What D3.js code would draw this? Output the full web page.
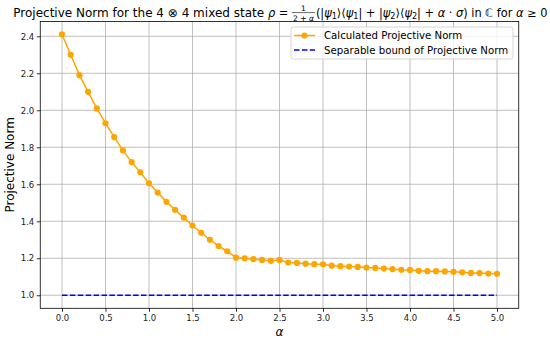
<!DOCTYPE html>
<html>
<head>
<meta charset="utf-8">
<script src="https://cdn.jsdelivr.net/npm/d3@7"></script>
<style>
  html, body { margin: 0; padding: 0; background: #fff; }
  svg { display: block; font-family: "DejaVu Sans", sans-serif; }
  text { white-space: pre; }
</style>
</head>
<body>
<svg id="chart" width="550" height="340"></svg>
<script>
// ---------- data ----------
const alphas = [0.0,0.1,0.2,0.3,0.4,0.5,0.6,0.7,0.8,0.9,1.0,1.1,1.2,1.3,1.4,1.5,1.6,1.7,1.8,1.9,2.0,
                2.1,2.2,2.3,2.4,2.5,2.6,2.7,2.8,2.9,3.0,3.1,3.2,3.3,3.4,3.5,3.6,3.7,3.8,3.9,4.0,
                4.1,4.2,4.3,4.4,4.5,4.6,4.7,4.8,4.9,5.0];
const normValues = [2.41,2.30,2.19,2.10,2.01,1.93,1.855,1.783,1.72,1.665,1.605,1.555,1.505,1.462,1.42,1.377,1.338,1.30,1.266,1.238,1.203,
                    1.200,1.195,1.191,1.186,1.191,1.177,1.175,1.171,1.168,1.167,1.160,1.157,1.155,1.153,1.150,1.148,1.144,1.141,1.138,1.137,
                    1.132,1.130,1.130,1.129,1.127,1.124,1.121,1.120,1.117,1.116];
const boundAlphas = [0.0, 5.0];
const boundValues = [1.0, 1.0];
const xTicks = [0.0,0.5,1.0,1.5,2.0,2.5,3.0,3.5,4.0,4.5,5.0];
const yTicks = [1.0,1.2,1.4,1.6,1.8,2.0,2.2,2.4];
const seriesNames = ["Calculated Projective Norm", "Separable bound of Projective Norm"];

// ---------- layout ----------
const svg = d3.select("#chart");
const L = 40.25, R = 518.75, T = 21.4, B = 308.3;
const x = d3.scaleLinear().domain([-0.25, 5.25]).range([L, R]);
const y = d3.scaleLinear().domain([0.9295, 2.4805]).range([B, T]);
const orange = "#FFA500", blue = "#0000FF";
const lw = 1.5, mr = 3.1;

// grid
const grid = svg.append("g");
grid.selectAll(".gx").data(xTicks).join("line")
  .attr("x1", d => x(d)).attr("x2", d => x(d)).attr("y1", T).attr("y2", B)
  .attr("stroke", "#b0b0b0").attr("stroke-width", 0.8);
grid.selectAll(".gy").data(yTicks).join("line")
  .attr("x1", L).attr("x2", R).attr("y1", d => y(d)).attr("y2", d => y(d))
  .attr("stroke", "#b0b0b0").attr("stroke-width", 0.8);

// axes
const xAxis = svg.append("g").attr("transform", `translate(0,${B})`)
  .call(d3.axisBottom(x).tickValues(xTicks).tickFormat(d3.format(".1f")).tickSize(3.5).tickPadding(3));
const yAxis = svg.append("g").attr("transform", `translate(${L},0)`)
  .call(d3.axisLeft(y).tickValues(yTicks).tickFormat(d3.format(".1f")).tickSize(3.5).tickPadding(2.5));
[xAxis, yAxis].forEach(a => {
  a.select(".domain").remove();
  a.selectAll(".tick line").attr("stroke", "#000").attr("stroke-width", 0.8);
  a.selectAll(".tick text").attr("fill", "#222").style("font-size", "8.5px")
    .style("font-family", "'DejaVu Sans', sans-serif");
});

// data lines
const line = d3.line().x(d => x(d[0])).y(d => y(d[1]));
svg.append("path").datum(d3.zip(boundAlphas, boundValues))
  .attr("d", line).attr("fill", "none").attr("stroke", blue)
  .attr("stroke-width", lw).attr("stroke-dasharray", "5.5,2.4");
const normPts = d3.zip(alphas, normValues);
svg.append("path").datum(normPts)
  .attr("d", line).attr("fill", "none").attr("stroke", orange).attr("stroke-width", lw);
svg.append("g").selectAll("circle").data(normPts).join("circle")
  .attr("cx", d => x(d[0])).attr("cy", d => y(d[1])).attr("r", mr).attr("fill", orange);

// spines
svg.append("rect").attr("x", L).attr("y", T).attr("width", R - L).attr("height", B - T)
  .attr("fill", "none").attr("stroke", "#000").attr("stroke-width", 0.8);

// axis labels
svg.append("text").attr("x", (L + R) / 2).attr("y", 336).attr("text-anchor", "middle")
  .style("font-size", "12px").style("font-style", "italic").text("α");
svg.append("text").attr("transform", `translate(13.5,${(T + B) / 2}) rotate(-90)`)
  .attr("text-anchor", "middle").style("font-size", "12px").text("Projective Norm");

// legend
const lg = svg.append("g");
lg.append("rect").attr("x", 291).attr("y", 27).attr("width", 222).attr("height", 32)
  .attr("rx", 2.5).attr("fill", "#fff").attr("fill-opacity", 0.8)
  .attr("stroke", "#cccccc").attr("stroke-width", 0.8);
const rows = [35.5, 50];
lg.append("line").attr("x1", 294).attr("x2", 315).attr("y1", rows[0]).attr("y2", rows[0])
  .attr("stroke", orange).attr("stroke-width", lw);
lg.append("circle").attr("cx", 304.5).attr("cy", rows[0]).attr("r", mr).attr("fill", orange);
lg.append("line").attr("x1", 294).attr("x2", 315).attr("y1", rows[1]).attr("y2", rows[1])
  .attr("stroke", blue).attr("stroke-width", lw).attr("stroke-dasharray", "5.5,2.4");
seriesNames.forEach((n, i) => {
  lg.append("text").attr("x", 324).attr("y", rows[i] + 3.6).style("font-size", "10.2px").text(n);
});

// title (mathtext-like)
const baseY = 16.8, fs = 12, titleStart = 13.3, titleEnd = 548;
const plainTitle = "Projective Norm for the 4 ⊗ 4 mixed state ";
const segs = [
  {t: "ρ", it: true}, {t: " = "}, {frac: true},
  {t: "(|"}, {t: "ψ", it: true}, {t: "1", sub: true}, {t: "⟩⟨"}, {t: "ψ", it: true}, {t: "1", sub: true},
  {t: "| + |"}, {t: "ψ", it: true}, {t: "2", sub: true}, {t: "⟩⟨"}, {t: "ψ", it: true}, {t: "2", sub: true},
  {t: "| + "}, {t: "α", it: true}, {t: " · "}, {t: "σ", it: true}, {t: ") in "}, {t: "ℂ"},
  {t: " for "}, {t: "α", it: true}, {t: " ≥ 0"}
];
function addText(g, s, xx, yy, size, it) {
  return g.append("text").attr("x", xx).attr("y", yy).attr("xml:space", "preserve")
    .style("font-size", size + "px").style("font-style", it ? "italic" : "normal").text(s);
}
function layoutMath(g, x0, k) {
  let cx = x0;
  segs.forEach(s => {
    if (s.frac) {
      const fsz = 8 * k;
      const num = addText(g, "1", 0, baseY - 6, fsz, false);
      const den = g.append("text").attr("y", baseY + 4.5).attr("xml:space", "preserve").style("font-size", fsz + "px");
      den.append("tspan").text("2 + ");
      den.append("tspan").style("font-style", "italic").text("α");
      const wn = num.node().getComputedTextLength();
      const wd = den.node().getComputedTextLength();
      const w = Math.max(wn, wd) + 2;
      num.attr("x", cx + (w - wn) / 2);
      den.attr("x", cx + (w - wd) / 2);
      g.append("line").attr("x1", cx).attr("x2", cx + w).attr("y1", baseY - 4.2).attr("y2", baseY - 4.2)
        .attr("stroke", "#000").attr("stroke-width", 0.6);
      cx += w + 1;
    } else if (s.sub) {
      const el = addText(g, s.t, cx, baseY + 2.5, 8.5 * k, false);
      cx += el.node().getComputedTextLength();
    } else {
      const el = addText(g, s.t, cx, baseY, fs * k, s.it);
      cx += el.node().getComputedTextLength();
    }
  });
  return cx - x0;
}
const tg = svg.append("g");
const plain = addText(tg, plainTitle, titleStart, baseY, fs, false);
const mathX = titleStart + plain.node().getComputedTextLength();
const probe = svg.append("g");
const natural = layoutMath(probe, 0, 1);
probe.remove();
const k = Math.min(1, (titleEnd - mathX) / natural);
layoutMath(tg.append("g"), mathX, k);
</script>
</body>
</html>
